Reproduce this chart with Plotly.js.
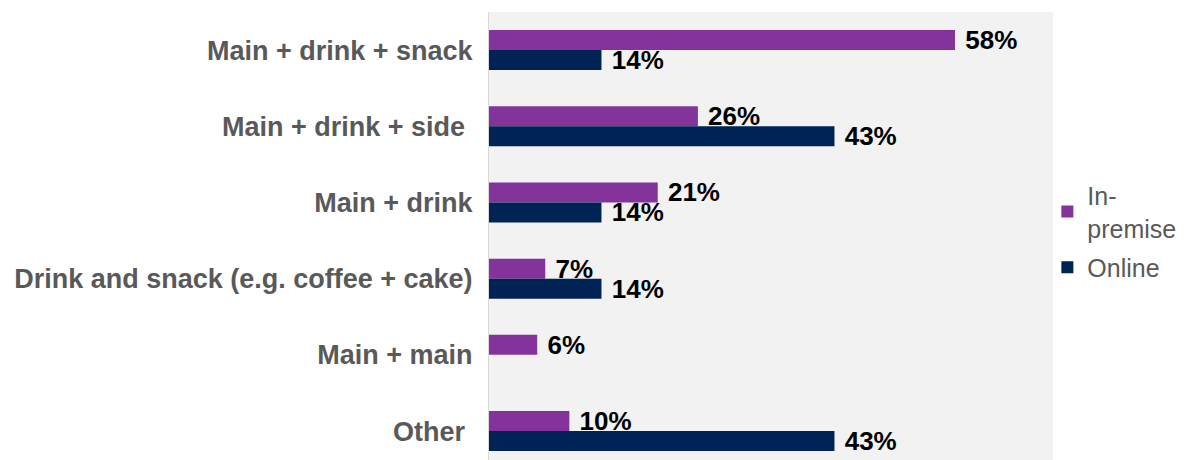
<!DOCTYPE html>
<html>
<head>
<meta charset="utf-8">
<script src="https://cdn.plot.ly/plotly-3.0.1.min.js"></script>
<style>html,body{margin:0;padding:0;background:#fff;}#chart{width:1187px;height:460px;}</style>
</head>
<body>
<div id="chart"></div>
<script>
const categories = ["Main + drink + snack", "Main + drink + side ", "Main + drink", "Drink and snack (e.g. coffee + cake)", "Main + main", "Other "];
const inPremise = [58, 26, 21, 7, 6, 10];
const online = [14, 43, 14, 14, null, 43];
const seriesNames = ["In-<br>premise", "Online"];

const labelFont = {family: "Liberation Sans, Arial, sans-serif", size: 26, color: "#000000", weight: "bold"};
function lbl(v){ return v.map(x => x == null ? "" : "\u00a0<b>" + x + "%</b>"); }

const traces = [
  {type: "bar", orientation: "h", name: seriesNames[0], legendgroup: "a", y: categories, x: inPremise,
   marker: {color: "#833399"}, text: lbl(inPremise), textposition: "outside", textfont: labelFont,
   constraintext: "none", cliponaxis: false, hoverinfo: "none"},
  {type: "bar", orientation: "h", name: seriesNames[1], legendgroup: "b", y: categories, x: online,
   marker: {color: "#002355"}, text: lbl(online), textposition: "outside", textfont: labelFont,
   constraintext: "none", cliponaxis: false, hoverinfo: "none"}
];

const layout = {
  width: 1187, height: 460,
  margin: {l: 489, r: 134, t: 12, b: 0, pad: 0},
  paper_bgcolor: "#ffffff", plot_bgcolor: "#f2f2f2",
  font: {family: "Liberation Sans, Arial, sans-serif", color: "#595959"},
  barmode: "group", bargap: 0.475, bargroupgap: 0,
  showlegend: true,
  legend: {x: 0.99, xanchor: "left", y: 0.51, yanchor: "middle", font: {size: 25, color: "#595959"},
           bgcolor: "rgba(0,0,0,0)", tracegroupgap: 4, itemwidth: 30},
  xaxis: {range: [0, 70.2], showgrid: false, zeroline: false, showline: false, showticklabels: false, ticks: ""},
  yaxis: {type: "category", categoryorder: "array", categoryarray: categories, range: [5.38, -0.5],
          showgrid: false, zeroline: false, showline: true, linecolor: "#d9d9d9", linewidth: 1,
          ticks: "", ticklabelstandoff: 10,
          tickfont: {size: 27, color: "#595959", weight: "bold"}}
};

Plotly.newPlot("chart", traces, layout, {staticPlot: true, displayModeBar: false});
</script>
</body>
</html>
